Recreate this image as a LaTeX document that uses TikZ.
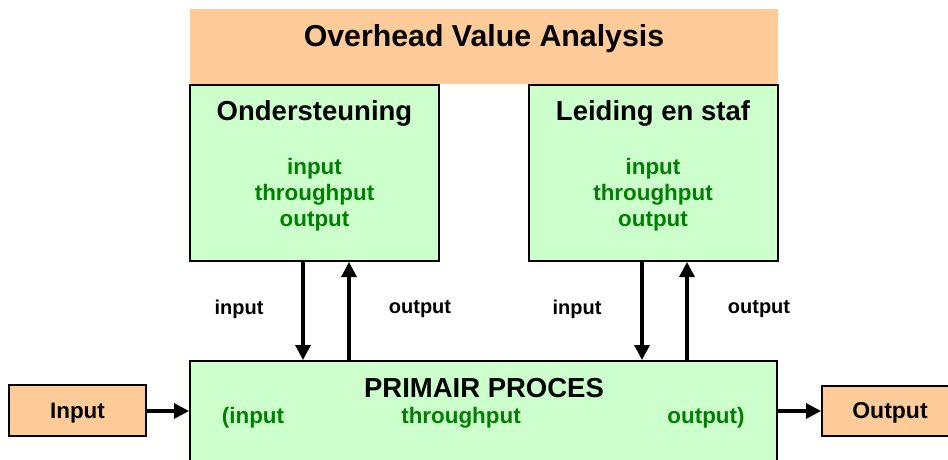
\documentclass[tikz,border=0pt]{standalone}
\usepackage{fontspec}
\setmainfont{Liberation Sans}
\usetikzlibrary{arrows.meta}
\definecolor{peach}{HTML}{FFCC99}
\definecolor{lgreen}{HTML}{CCFFCC}
\definecolor{dgreen}{HTML}{008000}
\begin{document}
\begin{tikzpicture}[x=1pt,y=-1pt,
  boxg/.style={draw=black,line width=2pt,fill=lgreen,rectangle,inner sep=0pt},
  boxo/.style={draw=black,line width=2pt,fill=peach,rectangle,inner sep=0pt},
  head/.style={font=\bfseries\fontsize{27.5}{32}\selectfont,inner sep=0pt},
  gtxt/.style={font=\bfseries\fontsize{22.4}{26}\selectfont,text=dgreen,align=center,inner sep=0pt},
  lbl/.style={font=\bfseries\fontsize{20}{24}\selectfont,inner sep=0pt},
  arr/.style={line width=3.2pt,-{Triangle[length=15pt,width=15pt]}}]
\useasboundingbox (0,0) rectangle (948,460);
\clip (0,0) rectangle (948,460);
\node[fill=peach,minimum width=588pt,minimum height=75pt,inner sep=0pt] (ova) at (484,46.5) {};
\node[font=\bfseries\fontsize{30.3}{36}\selectfont,inner sep=0pt] (ovat) at (484,39) {Overhead Value Analysis};
\node[boxg,minimum width=249pt,minimum height=176pt] (ond) at (314.5,173) {};
\node[boxg,minimum width=249pt,minimum height=176pt] (lei) at (653,173) {};
\node[head] (ondt) at (314.5,113) {Ondersteuning};
\node[head] (leit) at (653,113) {Leiding en staf};
\node[gtxt] (ondg) at (314.5,195) {input\\throughput\\output};
\node[gtxt] (leig) at (653,195) {input\\throughput\\output};
\node[boxg,minimum width=587pt,minimum height=130pt] (prim) at (483.5,426) {};
\node[font=\bfseries\fontsize{27.5}{32}\selectfont,inner sep=0pt] (primt) at (484,388) {PRIMAIR PROCES};
\node[gtxt] (pin) at (253,418) {(input};
\node[gtxt] (pth) at (461,418) {throughput};
\node[gtxt] (pout) at (706,418) {output)};
\node[boxo,minimum width=137pt,minimum height=51pt] (inb) at (77.5,410.5) {};
\node[font=\bfseries\fontsize{22.4}{26}\selectfont,inner sep=0pt] (inbt) at (77.5,413) {Input};
\node[boxo,minimum width=150pt,minimum height=50pt] (outb) at (897,411) {};
\node[font=\bfseries\fontsize{23}{26}\selectfont,inner sep=0pt] (outbt) at (890,413) {Output};
\coordinate (x1) at (303,0);
\coordinate (x2) at (349,0);
\coordinate (x3) at (642,0);
\coordinate (x4) at (687,0);
\coordinate (yy) at (0,411);
\draw[arr] (ond.south -| x1) -- (prim.north -| x1);
\draw[arr] (prim.north -| x2) -- (ond.south -| x2);
\draw[arr] (lei.south -| x3) -- (prim.north -| x3);
\draw[arr] (prim.north -| x4) -- (lei.south -| x4);
\draw[arr] (inb.east |- yy) -- (prim.west |- yy);
\draw[arr] (prim.east |- yy) -- (outb.west |- yy);
\node[lbl] (l1) at (239,309) {input};
\node[lbl] (l2) at (420,309) {output};
\node[lbl] (l3) at (577,309) {input};
\node[lbl] (l4) at (759,309) {output};
\end{tikzpicture}
\end{document}
